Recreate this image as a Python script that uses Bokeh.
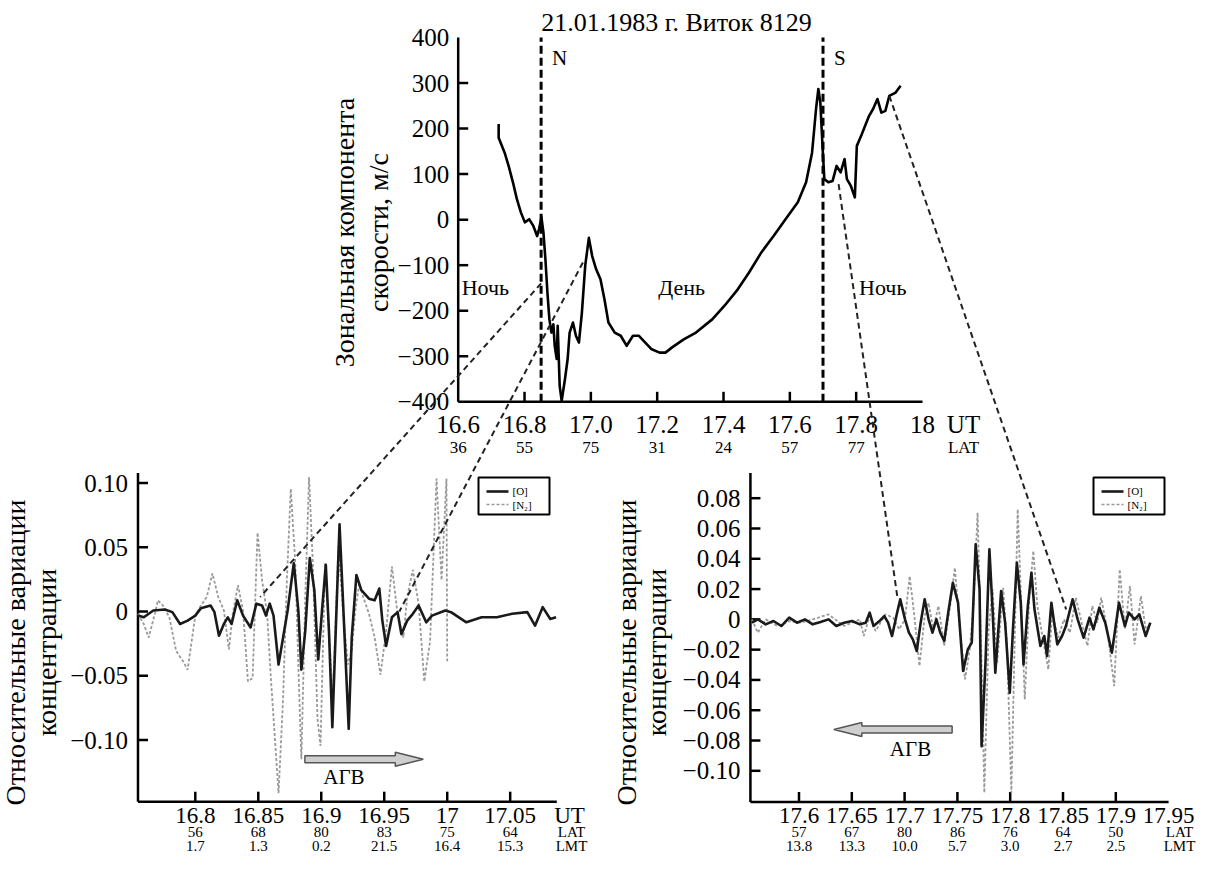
import math
from bokeh.plotting import figure
from bokeh.models import Range1d
from bokeh.core.properties import value
from bokeh.embed import file_html
from bokeh.resources import INLINE

W, H = 1200, 858
SERIF = "Liberation Serif"

# ---------------- data ----------------
# top panel: zonal velocity component, m/s vs UT
top_ut = [16.722, 16.722, 16.740, 16.752, 16.765, 16.777, 16.789, 16.801, 16.814, 16.826,
          16.838, 16.844, 16.851, 16.857, 16.863, 16.869, 16.875, 16.881, 16.887, 16.891,
          16.897, 16.900, 16.906, 16.912, 16.922, 16.930, 16.936, 16.946, 16.955, 16.964,
          16.973, 16.983, 16.994, 17.004, 17.016, 17.029, 17.041, 17.053, 17.072, 17.090,
          17.108, 17.127, 17.145, 17.164, 17.182, 17.207, 17.225, 17.244, 17.280, 17.317,
          17.366, 17.403, 17.440, 17.477, 17.514, 17.551, 17.587, 17.624, 17.649, 17.667,
          17.679, 17.686, 17.692, 17.698, 17.704, 17.716, 17.729, 17.741, 17.753, 17.765,
          17.772, 17.784, 17.796, 17.802, 17.815, 17.827, 17.839, 17.851, 17.864, 17.876,
          17.888, 17.900, 17.919, 17.934]
top_v = [210, 180, 147, 118, 82, 45, 16, -6, 1, -13,
         -36, -20, 5, -28, -87, -160, -219, -248, -230, -277,
         -306, -233, -365, -398, -350, -306, -248, -226, -255, -270,
         -204, -101, -40, -80, -109, -131, -175, -226, -248, -255,
         -277, -255, -255, -270, -284, -292, -292, -281, -263, -248,
         -219, -189, -156, -116, -72, -36, 1, 38, 82, 147,
         243, 287, 257, 169, 89, 82, 85, 118, 104, 133,
         89, 74, 49, 162, 184, 206, 228, 243, 265, 235,
         239, 272, 279, 294]
marker_ut = [16.85, 17.7]
marker_txt = ["N", "S"]

# bottom-left panel: relative concentration variations
left_ut_o = [16.7545, 16.7591, 16.7667, 16.7758, 16.7818, 16.7879, 16.7939, 16.8000, 16.8045, 16.8121,
             16.8152, 16.8188, 16.8227, 16.8258, 16.8288, 16.8333, 16.8379, 16.8439, 16.8485, 16.8530,
             16.8561, 16.8591, 16.8621, 16.8661, 16.8697, 16.8733, 16.8782, 16.8818, 16.8842, 16.8873,
             16.8909, 16.8945, 16.8976, 16.9006, 16.9036, 16.9061, 16.9088, 16.9115, 16.9145, 16.9176,
             16.9218, 16.9242, 16.9279, 16.9318, 16.9379, 16.9424, 16.9461, 16.9485, 16.9515, 16.9561,
             16.9606, 16.9636, 16.9682, 16.9727, 16.9773, 16.9833, 16.9879, 16.9985, 17.0030, 17.0152,
             17.0273, 17.0394, 17.0515, 17.0636, 17.0697, 17.0758, 17.0818, 17.0864]
left_o = [-0.0032, -0.0045, 0.0008, 0.0016, -0.0005, -0.0097, -0.0071, -0.0032, 0.0026, 0.0047,
          -0.0005, -0.0189, -0.0097, -0.0045, -0.0097, 0.0087, -0.0032, -0.0124, 0.0061, 0.0047,
          -0.0032, 0.0061, -0.0032, -0.0413, -0.0203, 0.0008, 0.0376, 0.0008, -0.0453, -0.0150,
          0.0416, 0.0166, -0.0374, 0.0008, 0.0363, -0.0150, -0.0900, -0.0150, 0.0679, 0.0008,
          -0.0913, -0.0203, 0.0284, 0.0166, 0.0100, 0.0087, 0.0179, -0.0071, -0.0268, -0.0045,
          -0.0005, -0.0176, -0.0071, -0.0018, 0.0047, -0.0084, -0.0032, 0.0008, -0.0005, -0.0084,
          -0.0045, -0.0045, -0.0018, -0.0005, -0.0110, 0.0034, -0.0058, -0.0045]
left_ut_n2 = [16.7545, 16.7591, 16.7630, 16.7682, 16.7703, 16.7742, 16.7794, 16.7848, 16.7903, 16.7939,
              16.8000, 16.8045, 16.8091, 16.8136, 16.8182, 16.8227, 16.8267, 16.8297, 16.8339, 16.8379,
              16.8418, 16.8455, 16.8494, 16.8530, 16.8570, 16.8600, 16.8661, 16.8697, 16.8727, 16.8758,
              16.8794, 16.8818, 16.8842, 16.8873, 16.8903, 16.8933, 16.8970, 16.8994, 16.9030, 16.9061,
              16.9091, 16.9136, 16.9176, 16.9212, 16.9242, 16.9273, 16.9303, 16.9333, 16.9379, 16.9424,
              16.9470, 16.9515, 16.9561, 16.9606, 16.9652, 16.9682, 16.9727, 16.9773, 16.9818, 16.9864,
              16.9915, 16.9955, 16.9994, 17.0000]
left_n2 = [-0.0018, -0.0097, -0.0203, -0.0005, 0.0087, 0.0047, -0.0045, -0.0308, -0.0387, -0.0453,
           -0.0032, 0.0047, 0.0113, 0.0297, 0.0113, 0.0008, -0.0295, -0.0018, 0.0205, 0.0008,
           -0.0545, -0.0518, 0.0613, 0.0245, -0.0018, -0.0518, -0.1413, -0.0676, 0.0245, 0.0955,
           0.0376, -0.0413, -0.1150, 0.0113, 0.1047, 0.0376, -0.0834, -0.1045, 0.0376, -0.0150,
           -0.0676, 0.0508, -0.0045, -0.0413, -0.0308, 0.0034, 0.0218, 0.0113, -0.0018, -0.0203,
           -0.0492, -0.0150, 0.0350, -0.0018, -0.0203, 0.0113, 0.0324, 0.0061, -0.0545, -0.0229,
           0.1034, 0.0245, 0.1034, -0.0387]

# bottom-right panel
right_ut_o = [17.5554, 17.5610, 17.5684, 17.5758, 17.5833, 17.5907, 17.5981, 17.6056, 17.6130, 17.6204,
              17.6279, 17.6353, 17.6428, 17.6502, 17.6576, 17.6632, 17.6669, 17.6706, 17.6762, 17.6807,
              17.6844, 17.6881, 17.6929, 17.6959, 17.7004, 17.7041, 17.7078, 17.7115, 17.7152, 17.7190,
              17.7227, 17.7264, 17.7301, 17.7338, 17.7375, 17.7413, 17.7457, 17.7506, 17.7554, 17.7599,
              17.7636, 17.7673, 17.7710, 17.7729, 17.7766, 17.7803, 17.7833, 17.7859, 17.7914, 17.7952,
              17.7996, 17.8026, 17.8063, 17.8100, 17.8126, 17.8167, 17.8201, 17.8230, 17.8286, 17.8323,
              17.8349, 17.8390, 17.8416, 17.8446, 17.8491, 17.8528, 17.8591, 17.8639, 17.8695, 17.8751,
              17.8788, 17.8844, 17.8900, 17.8963, 17.9030, 17.9086, 17.9123, 17.9178, 17.9223, 17.9283,
              17.9327]
right_o = [-0.0022, 0.0000, -0.0033, -0.0011, -0.0044, 0.0011, -0.0022, 0.0000, -0.0033, -0.0018,
           0.0000, -0.0044, -0.0022, -0.0011, -0.0033, -0.0022, 0.0044, -0.0044, -0.0011, 0.0022,
           -0.0022, -0.0110, 0.0044, 0.0132, 0.0000, -0.0088, -0.0132, -0.0209, -0.0022, 0.0132,
           0.0000, -0.0088, 0.0000, -0.0088, -0.0143, 0.0044, 0.0242, 0.0110, -0.0341, -0.0198,
           -0.0154, 0.0496, 0.0198, -0.0837, -0.0286, 0.0463, 0.0066, -0.0352, 0.0187, -0.0022,
           -0.0485, -0.0066, 0.0374, 0.0110, -0.0297, 0.0088, 0.0308, 0.0066, -0.0176, -0.0110,
           -0.0242, 0.0110, -0.0022, -0.0165, -0.0110, -0.0044, 0.0132, 0.0000, -0.0121, 0.0011,
           -0.0066, 0.0077, -0.0022, -0.0220, 0.0110, -0.0044, 0.0044, 0.0000, 0.0033, -0.0110,
           -0.0022]
right_ut_n2 = [17.5554, 17.5610, 17.5684, 17.5796, 17.5907, 17.6019, 17.6130, 17.6279, 17.6428, 17.6576,
               17.6613, 17.6669, 17.6725, 17.6818, 17.6892, 17.6948, 17.7004, 17.7048, 17.7089, 17.7141,
               17.7190, 17.7227, 17.7271, 17.7320, 17.7375, 17.7431, 17.7476, 17.7524, 17.7572, 17.7617,
               17.7654, 17.7691, 17.7729, 17.7755, 17.7796, 17.7833, 17.7877, 17.7933, 17.7970, 17.8011,
               17.8045, 17.8071, 17.8108, 17.8138, 17.8182, 17.8219, 17.8257, 17.8305, 17.8361, 17.8398,
               17.8454, 17.8509, 17.8565, 17.8621, 17.8677, 17.8732, 17.8777, 17.8825, 17.8862, 17.8918,
               17.8985, 17.9037, 17.9086, 17.9134, 17.9178, 17.9238, 17.9283, 17.9327]
right_n2 = [0.0000, -0.0088, 0.0000, -0.0044, -0.0011, -0.0022, 0.0000, 0.0033, -0.0044, 0.0000,
            -0.0110, 0.0022, -0.0077, 0.0033, 0.0011, -0.0066, 0.0000, 0.0286, 0.0044, -0.0308,
            0.0022, 0.0110, -0.0066, 0.0088, -0.0176, 0.0088, 0.0341, -0.0066, -0.0396, -0.0198,
            0.0110, 0.0705, -0.0286, -0.1145, -0.0066, 0.0198, -0.0286, 0.0209, -0.0176, -0.1145,
            -0.0066, 0.0727, 0.0044, -0.0529, 0.0154, 0.0452, 0.0088, -0.0110, -0.0330, 0.0044,
            -0.0121, 0.0000, -0.0088, 0.0143, -0.0022, -0.0176, 0.0088, -0.0022, 0.0143, -0.0066,
            -0.0441, 0.0330, -0.0066, 0.0220, -0.0165, 0.0154, -0.0066, -0.0033]

# axes ticks / labels
top_xt = [16.6, 16.8, 17.0, 17.2, 17.4, 17.6, 17.8, 18.0]
top_xl = ["16.6", "16.8", "17.0", "17.2", "17.4", "17.6", "17.8", "18"]
top_lat = ["36", "55", "75", "31", "24", "57", "77"]
top_yt = [400, 300, 200, 100, 0, -100, -200, -300, -400]
top_yl = ["400", "300", "200", "100", "0", "\u2212100", "\u2212200", "\u2212300", "\u2212400"]

left_xt = [16.8, 16.85, 16.9, 16.95, 17.0, 17.05]
left_xl = ["16.8", "16.85", "16.9", "16.95", "17", "17.05"]
left_lat = ["56", "68", "80", "83", "75", "64"]
left_lmt = ["1.7", "1.3", "0.2", "21.5", "16.4", "15.3"]
left_yt = [0.10, 0.05, 0.0, -0.05, -0.10]
left_yl = ["0.10", "0.05", "0", "\u22120.05", "\u22120.10"]

right_xt = [17.6, 17.65, 17.7, 17.75, 17.8, 17.85, 17.9, 17.95]
right_xl = ["17.6", "17.65", "17.7", "17.75", "17.8", "17.85", "17.9", "17.95"]
right_lat = ["57", "67", "80", "86", "76", "64", "50"]
right_lmt = ["13.8", "13.3", "10.0", "5.7", "3.0", "2.7", "2.5"]
right_yt = [0.08, 0.06, 0.04, 0.02, 0.0, -0.02, -0.04, -0.06, -0.08, -0.10]
right_yl = ["0.08", "0.06", "0.04", "0.02", "0", "\u22120.02", "\u22120.04", "\u22120.06", "\u22120.08", "\u22120.10"]

# ---------------- figure ----------------
p = figure(width=W, height=H, x_range=Range1d(0, W), y_range=Range1d(H, 0),
           output_backend="svg", toolbar_location=None,
           x_axis_location=None, y_axis_location=None, min_border=0,
           outline_line_color=None, background_fill_color="white",
           border_fill_color="white")
p.grid.visible = False

xr, yr = {}, {}


class Panel:
    def __init__(self, name, x0, x1, px0, px1, y0, y1, py0, py1, xlim, ylim):
        self.name = name
        self.x0, self.px0, self.y0, self.py0 = x0, px0, y0, py0
        self.sx = (px1 - px0) / (x1 - x0)
        self.sy = (py0 - py1) / (y1 - y0)
        xr[name + "x"] = Range1d(x0 - px0 / self.sx, x0 + (W - px0) / self.sx)
        yr[name + "y"] = Range1d(y0 - (H - py0) / self.sy, y0 + py0 / self.sy)
        self.kw = dict(x_range_name=name + "x", y_range_name=name + "y")
        self.xlim, self.ylim = xlim, ylim

    def X(self, v):
        return self.px0 + (v - self.x0) * self.sx

    def Y(self, v):
        return self.py0 - (v - self.y0) * self.sy


TOP = Panel("top", 16.6, 18.0, 457.7, 922.0, -400, 400, 401.3, 37.0, (16.6, 18.0), (-400, 400))
BL = Panel("bl", 16.8, 17.05, 194.8, 509.7, -0.10, 0.10, 739.5, 482.5, (16.7545, 17.087), (-0.148, 0.1077))
BR = Panel("br", 17.6, 17.9, 798.5, 1115.3, -0.10, 0.08, 770.3, 497.7, (17.554, 17.95), (-0.1206, 0.0966))
p.extra_x_ranges = xr
p.extra_y_ranges = yr


def txt(xs, ys, ss, size, align="center", baseline="middle", angle=0.0, color="black"):
    p.text(x=list(xs), y=list(ys), text=list(ss), text_font=value(SERIF),
           text_font_size=f"{size}px", text_align=align, text_baseline=baseline,
           angle=angle, text_color=color)


def draw_axes(P, xt, yt, tick_px=10):
    (xa, xb), (ya, yb) = P.xlim, P.ylim
    p.segment(x0=[xa, xa], y0=[ya, ya], x1=[xa, xb], y1=[yb, ya],
              line_color="black", line_width=2.5, **P.kw)
    dy = tick_px / P.sy
    dx = tick_px / P.sx
    p.segment(x0=xt, y0=[ya] * len(xt), x1=xt, y1=[ya + dy] * len(xt),
              line_color="black", line_width=2.5, **P.kw)
    p.segment(x0=[xa] * len(yt), y0=yt, x1=[xa + dx] * len(yt), y1=yt,
              line_color="black", line_width=2.5, **P.kw)


# ---------- top panel ----------
draw_axes(TOP, top_xt[1:-1], top_yt[1:-1], tick_px=10)
p.segment(x0=marker_ut, y0=[-400, -400], x1=marker_ut, y1=[400, 400],
          line_color="black", line_width=3, line_dash="8 4", **TOP.kw)
p.line(top_ut, top_v, line_color="black", line_width=2.6, line_join="round", **TOP.kw)

ax_y = TOP.Y(-400)
txt([TOP.X(16.6) - 9] * len(top_yt), [TOP.Y(v) for v in top_yt], top_yl, 25, align="right")
txt([TOP.X(v) for v in top_xt], [ax_y + 23] * len(top_xt), top_xl, 25)
txt([TOP.X(v) for v in top_xt[:-1]], [ax_y + 46] * len(top_lat), top_lat, 17)
txt([963], [ax_y + 23], ["UT"], 25)
txt([963], [ax_y + 46], ["LAT"], 17)
txt([TOP.X(v) + 11 for v in marker_ut], [TOP.Y(355)] * 2, marker_txt, 21, align="left")
txt([TOP.X(16.682), TOP.X(17.274), TOP.X(17.88)], [TOP.Y(-149)] * 3,
    ["Ночь", "День", "Ночь"], 22)
txt([676], [22], ["21.01.1983 г. Виток 8129"], 26)
txt([344, 378], [232, 232], ["Зональная компонента", "скорости, м/с"], 28, angle=math.pi / 2)

# ---------- bottom panels ----------
for P, xt, xl, lat, lmt, yt, yl, uo, vo, un, vn, lab_x in [
    (BL, left_xt, left_xl, left_lat, left_lmt, left_yt, left_yl,
     left_ut_o, left_o, left_ut_n2, left_n2, (15, 46)),
    (BR, right_xt, right_xl, right_lat, right_lmt, right_yt, right_yl,
     right_ut_o, right_o, right_ut_n2, right_n2, (626, 656)),
]:
    draw_axes(P, [t for t in xt if t < P.xlim[1] - 1e-6], yt, tick_px=10)
    p.line(un, vn, line_color="#9a9a9a", line_width=1.8, line_dash="3 2", **P.kw)
    p.line(uo, vo, line_color="#1a1a1a", line_width=2.6, line_join="round", **P.kw)
    base = P.Y(P.ylim[0])
    xa = P.X(P.xlim[0])
    txt([xa - 10] * len(yt), [P.Y(v) for v in yt], yl, 25, align="right")
    txt([P.X(v) for v in xt], [base + 14] * len(xt), xl, 23)
    txt([P.X(v) for v in xt[:len(lat)]], [base + 30] * len(lat), lat, 15)
    txt([P.X(v) for v in xt[:len(lmt)]], [base + 44] * len(lmt), lmt, 15)
    txt(list(lab_x), [652, 652], ["Относительные вариации", "концентрации"], 28, angle=math.pi / 2)

bl_base = BL.Y(BL.ylim[0])
txt([569], [bl_base + 14], ["UT"], 23)
txt([571, 571], [bl_base + 30, bl_base + 44], ["LAT", "LMT"], 15)
br_base = BR.Y(BR.ylim[0])
txt([1179, 1179], [br_base + 30, br_base + 44], ["LAT", "LMT"], 15)

# legends
for lx in [478, 1093]:
    p.quad(left=[lx], right=[lx + 71], top=[477], bottom=[514], fill_color="white",
           line_color="black", line_width=2)
    p.segment(x0=[lx + 8], y0=[491], x1=[lx + 30], y1=[491], line_color="#1a1a1a", line_width=2.6)
    p.segment(x0=[lx + 8], y0=[504], x1=[lx + 30], y1=[504], line_color="#9a9a9a",
              line_width=1.6, line_dash="3 2")
    txt([lx + 34], [490], ["[O]"], 11, align="left")
    txt([lx + 34], [504], ["[N\u2082]"], 11, align="left")

# AGW arrows
arrows = [(BL, 16.887, 16.981, -0.115, 16.918, -0.129),
          (BR, 17.745, 17.633, -0.0727, 17.7056, -0.0859)]
for P, xs_, xe_, ya_, tx, ty in arrows:
    xs, xe, y = P.X(xs_), P.X(xe_), P.Y(ya_)
    d = 1 if xe > xs else -1
    hl, hh, sh = 28, 7, 3.5
    px = [xs, xe - d * hl, xe - d * hl, xe, xe - d * hl, xe - d * hl, xs]
    py = [y - sh, y - sh, y - hh, y, y + hh, y + sh, y + sh]
    p.patch(px, py, fill_color="#cfcfcf", line_color="#555555", line_width=1.5)
    txt([P.X(tx)], [P.Y(ty)], ["АГВ"], 21)

# connector lines between panels
links = [(TOP, 16.85, -140, BL, 16.8515, 0.0113),
         (TOP, 16.976, -94, BL, 16.962, 0.0),
         (TOP, 17.747, 78, BR, 17.693, 0.0154),
         (TOP, 17.900, 272, BR, 17.853, 0.0066)]
p.segment(x0=[a.X(x) for a, x, _, _, _, _ in links], y0=[a.Y(y) for a, _, y, _, _, _ in links],
          x1=[b.X(x) for _, _, _, b, x, _ in links], y1=[b.Y(y) for _, _, _, b, _, y in links],
          line_color="#222222", line_width=2, line_dash="6 4")

open("out.html", "w").write(file_html(p, INLINE))
